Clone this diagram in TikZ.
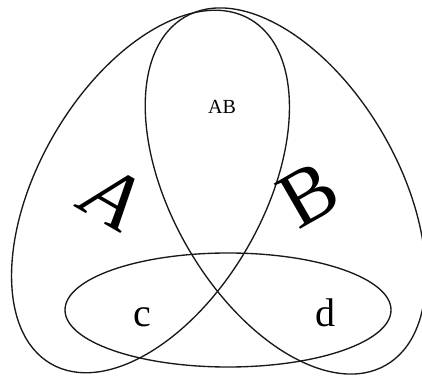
\documentclass[tikz,border=0pt]{standalone}
\usepackage{fontspec}
\setmainfont{Liberation Serif}
\begin{document}
\begin{tikzpicture}[x=1pt,y=1pt,
  oval/.style={draw=black!90, line width=1.35pt},
  lbl/.style={inner sep=0pt, text=black}]
\useasboundingbox (0,0) rectangle (422,379);
% set A (left tilted oval)
\draw[oval, rotate around={60:(150.5,187.5)}] (150.5,187.5) ellipse [x radius=199, y radius=112];
% set B (right tilted oval)
\draw[oval, rotate around={120:(285.5,188)}] (285.5,188) ellipse [x radius=201, y radius=113];
% bottom ellipse
\draw[oval] (228,69) ellipse [x radius=163, y radius=57];
\node[lbl] (ab) at (222,272) {\fontsize{20}{20}\selectfont AB};
\node[lbl, rotate=-30] (a) at (113,181) {\fontsize{82}{82}\selectfont\itshape A};
\node[lbl, rotate=30] (b) at (309,184) {\fontsize{80}{80}\selectfont B};
\node[lbl, anchor=base] (c) at (142,52) {\fontsize{40}{40}\selectfont c};
\node[lbl, anchor=base] (d) at (325,52) {\fontsize{40}{40}\selectfont d};
\end{tikzpicture}
\end{document}
